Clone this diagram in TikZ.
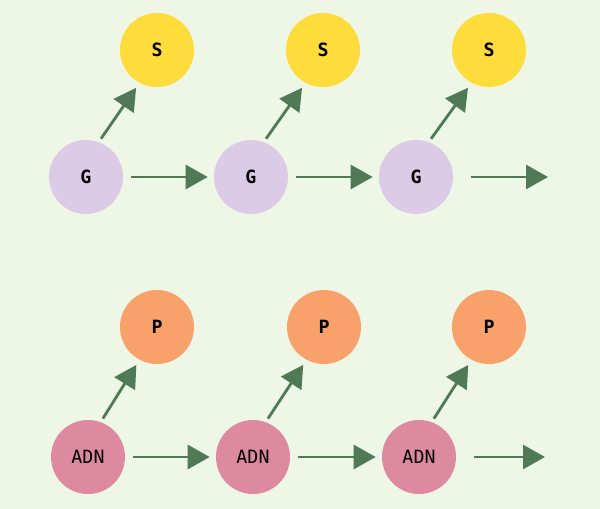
\documentclass[tikz,border=0pt]{standalone}
\usepackage{fontspec}
\newfontfamily\labelfont{DejaVu Sans Mono}
\usepackage{xcolor}
\usetikzlibrary{arrows.meta, calc}

\definecolor{bgcol}{HTML}{EEF6E6}
\definecolor{arrowcol}{HTML}{4F7A55}
\definecolor{gcol}{HTML}{DCCBE6}
\definecolor{scol}{HTML}{FDDC3C}
\definecolor{pcol}{HTML}{F8A16A}
\definecolor{adncol}{HTML}{DD8AA0}

\begin{document}
\begin{tikzpicture}[
    blob/.style={circle, draw=none, minimum size=1.85cm, inner sep=0pt, font=\labelfont\fontsize{13}{13}\selectfont},
    letter/.style={blob, font=\labelfont\bfseries\fontsize{13}{13}\selectfont},
    arrow/.style={-{Triangle[length=0.55cm, width=0.6cm]}, line width=2pt, draw=arrowcol},
    hop/.style={arrow, shorten <=0.2cm, shorten >=0.15cm},
    rise/.style={arrow, shorten <=0.1cm, shorten >=0.15cm}
]
    \fill[bgcol] (0,0) rectangle (15,-12.725);

    % upper row
    \node[letter, fill=gcol] (g1) at (2.15,-4.425) {G};
    \node[letter, fill=gcol] (g2) at (6.275,-4.425) {G};
    \node[letter, fill=gcol] (g3) at (10.4,-4.425) {G};
    \node[letter, fill=scol] (s1) at (3.925,-1.25) {S};
    \node[letter, fill=scol] (s2) at (8.075,-1.25) {S};
    \node[letter, fill=scol] (s3) at (12.225,-1.25) {S};
    \coordinate (gend) at (13.7,-4.425);

    % lower row
    \node[blob, fill=adncol] (adn1) at (2.2,-11.425) {ADN};
    \node[blob, fill=adncol] (adn2) at (6.325,-11.425) {ADN};
    \node[blob, fill=adncol] (adn3) at (10.475,-11.425) {ADN};
    \node[letter, fill=pcol] (p1) at (3.925,-8.175) {P};
    \node[letter, fill=pcol] (p2) at (8.1,-8.175) {P};
    \node[letter, fill=pcol] (p3) at (12.225,-8.175) {P};
    \coordinate (adnend) at (13.625,-11.425);

    \draw[hop] (g1) -- (g2);
    \draw[hop] (g2) -- (g3);
    \draw[arrow, shorten <=0.45cm] (g3.east) -- (gend);
    \draw[rise] (g1.70) -- (s1.242);
    \draw[rise] (g2.70) -- (s2.242);
    \draw[rise] (g3.70) -- (s3.242);

    \draw[hop] (adn1) -- (adn2);
    \draw[hop] (adn2) -- (adn3);
    \draw[arrow, shorten <=0.45cm] (adn3.east) -- (adnend);
    \draw[rise] (adn1.70) -- (p1.242);
    \draw[rise] (adn2.70) -- (p2.242);
    \draw[rise] (adn3.70) -- (p3.242);
\end{tikzpicture}
\end{document}
